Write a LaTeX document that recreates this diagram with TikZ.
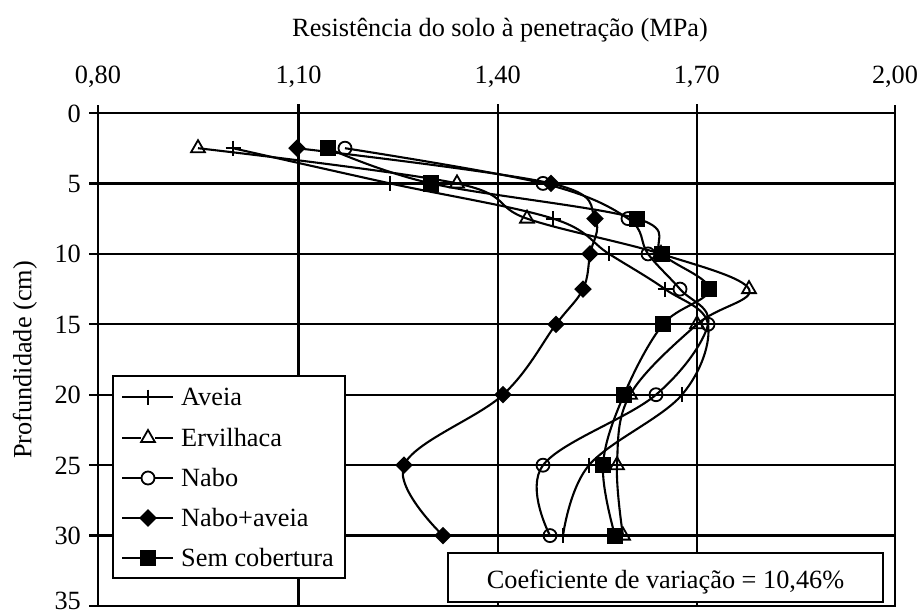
\documentclass[tikz,border=0pt]{standalone}
\usepackage{fontspec}
\setmainfont{Liberation Serif}
\usetikzlibrary{plotmarks}
\pgfdeclareplotmark{rdiam}{%
  \pgfpathmoveto{\pgfqpoint{0pt}{\pgfplotmarksize}}%
  \pgfpathlineto{\pgfqpoint{\pgfplotmarksize}{0pt}}%
  \pgfpathlineto{\pgfqpoint{0pt}{-\pgfplotmarksize}}%
  \pgfpathlineto{\pgfqpoint{-\pgfplotmarksize}{0pt}}%
  \pgfpathclose\pgfusepathqfillstroke}
\begin{document}
\begin{tikzpicture}[x=1pt,y=-1pt,
  font=\fontsize{26.3}{31}\selectfont,
  gridline/.style={line width=2.4pt, line cap=rect},
  frameline/.style={line width=2.8pt},
  series/.style={line width=2.1pt},
  mk/.style={mark options={line width=1.8pt, solid}},
  mplus/.style={mk, mark=+, mark size=7.5},
  mtri/.style={mk, mark=triangle, mark size=8},
  mcirc/.style={mk, mark=o, mark size=6.5},
  mdiam/.style={mk, mark=rdiam, mark size=7.5},
  msq/.style={mk, mark=square*, mark size=7.2},
  boxstyle/.style={draw, line width=1.8pt, fill=white},
  ticklab/.style={inner sep=0pt}
]
\useasboundingbox (0,0) rectangle (920,614);
% horizontal grid lines (depth)
\foreach \d in {5,10,...,30} {
  \draw[gridline] (98,{113+14.086*\d}) -- (895,{113+14.086*\d});
}
% vertical grid lines
\foreach \xv in {298.6,497.7,696.8} {
  \draw[gridline] (\xv,105) -- (\xv,606);
}
% frame
\draw[frameline] (98,105) -- (98,606) -- (895,606) -- (895,105);
\draw[frameline] (98,113) -- (895,113);
% left ticks
\foreach \d in {0,5,...,35} {
  \draw[gridline] (90,{113+14.086*\d}) -- (98,{113+14.086*\d});
}
% tick labels
\node[ticklab, anchor=base] (x080) at (98,83) {0,80};
\node[ticklab, anchor=base] (x110) at (298.6,83) {1,10};
\node[ticklab, anchor=base] (x140) at (497.7,83) {1,40};
\node[ticklab, anchor=base] (x170) at (696.8,83) {1,70};
\node[ticklab, anchor=base] (x200) at (895,83) {2,00};
\foreach \d in {0,5,...,30} {
  \node[ticklab, anchor=east] (y\d) at (81,{113.5+14.086*\d}) {\d};
}
\node[ticklab, anchor=east] (y35) at (81,601) {35};
\node[ticklab, anchor=base] (title) at (500,36) {Resistência do solo à penetração (MPa)};
\node[ticklab, rotate=90] (ylab) at (25,360) {Profundidade (cm)};

% series
\draw[series, mplus] plot[smooth, tension=0.6] coordinates {
  (233,148.2) (390,183.4) (553,218.6) (609,253.9) (665,289.1)
  (708,324.3) (682,394.7) (589,465.2) (563,535.6)};
\draw[series, mtri] plot[smooth, tension=0.6] coordinates {
  (198,148.2) (457,183.4) (527,218.6) (661,253.9) (749,289.1)
  (697,324.3) (630,394.7) (617,465.2) (623,535.6)};
\draw[series, mcirc] plot[smooth, tension=0.6] coordinates {
  (345,148.2) (543,183.4) (628,218.6) (648,253.9) (680,289.1)
  (708,324.3) (656,394.7) (543,465.2) (550,535.6)};
\draw[series, mdiam] plot[smooth, tension=0.6] coordinates {
  (297,148.2) (551,183.4) (595,218.6) (590,253.9) (583,289.1)
  (556,324.3) (503,394.7) (404,465.2) (443,535.6)};
\draw[series, msq] plot[smooth, tension=0.6] coordinates {
  (328,148.2) (431,183.4) (637,218.6) (662,253.9) (709,289.1)
  (663,324.3) (624,394.7) (603,465.2) (615,535.6)};

% legend
\draw[boxstyle] (113,376) rectangle (345,578);
\draw[series] (122,397) -- (173,397);
\draw[series, mplus] plot coordinates {(148,397)};
\node[ticklab, anchor=base west] (lg1) at (181,405.5) {Aveia};
\draw[series] (122,438) -- (141,438) (155,438) -- (173,438);
\draw[series, mtri] plot coordinates {(148,438)};
\node[ticklab, anchor=base west] (lg2) at (181,446.5) {Ervilhaca};
\draw[series] (122,478) -- (141.5,478) (154.5,478) -- (173,478);
\draw[series, mcirc] plot coordinates {(148,478)};
\node[ticklab, anchor=base west] (lg3) at (181,486.5) {Nabo};
\draw[series] (122,518) -- (173,518);
\draw[series, mdiam] plot coordinates {(148,518)};
\node[ticklab, anchor=base west] (lg4) at (181,526.5) {Nabo+aveia};
\draw[series] (122,558) -- (173,558);
\draw[series, msq] plot coordinates {(148,558)};
\node[ticklab, anchor=base west] (lg5) at (181,566.5) {Sem cobertura};

% coefficient box
\draw[boxstyle] (448,553) rectangle (883,602);
\node[ticklab, anchor=base] (cv) at (665.5,588) {Coeficiente de variação = 10,46\%};
\end{tikzpicture}
\end{document}
